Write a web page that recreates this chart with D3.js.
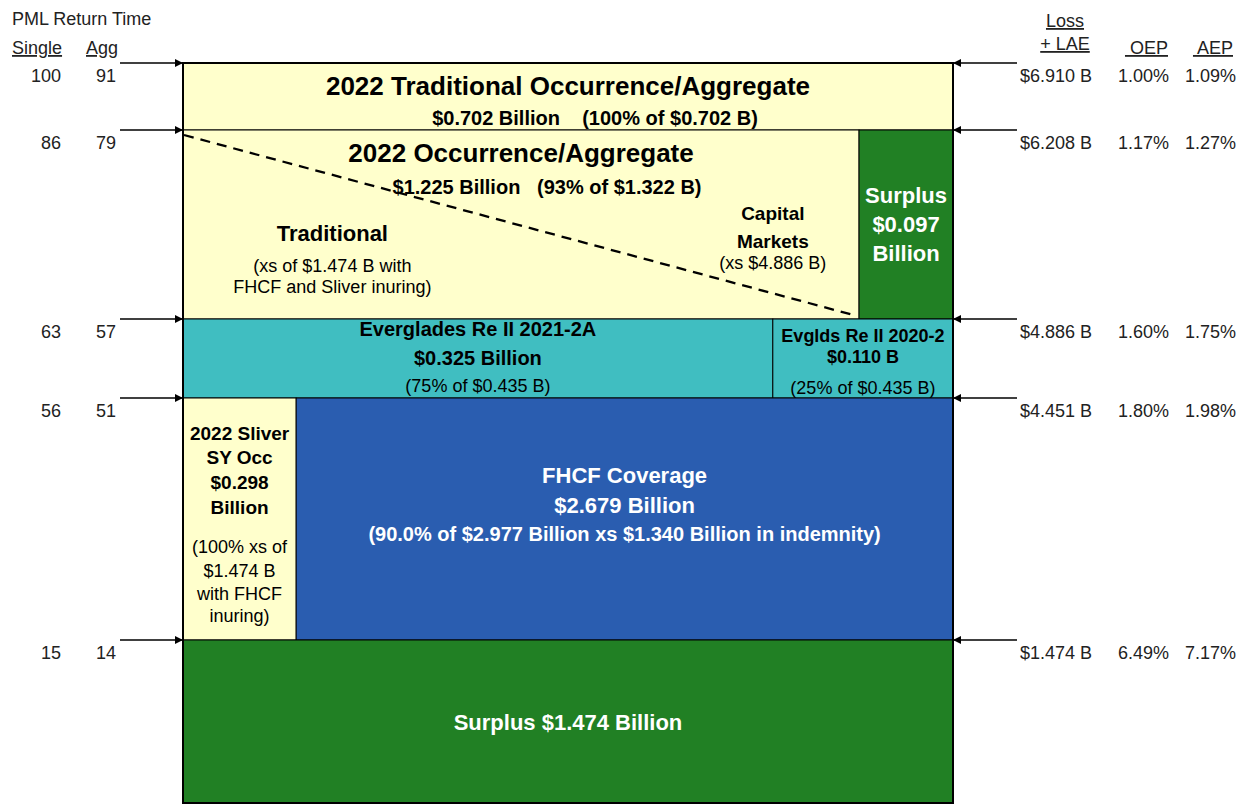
<!DOCTYPE html>
<html>
<head>
<meta charset="utf-8">
<script src="https://cdn.jsdelivr.net/npm/d3@7"></script>
<style>
  body { margin: 0; background: #fff; }
  svg text { font-family: "Liberation Sans", Arial, sans-serif; }
</style>
</head>
<body>
<div id="chart"></div>
<script>
// Loss + LAE attachment points (billions), bottom to top
const levels = [0, 1.474, 4.451, 4.886, 6.208, 6.910];

// side labels, top to bottom (levels 6.910 .. 1.474)
const lossLabels = ["$6.910 B", "$6.208 B", "$4.886 B", "$4.451 B", "$1.474 B"];
const singleRT = [100, 86, 63, 56, 15];
const aggRT = [91, 79, 57, 51, 14];
const oepLabels = ["1.00%", "1.17%", "1.60%", "1.80%", "6.49%"];
const aepLabels = ["1.09%", "1.27%", "1.75%", "1.98%", "7.17%"];

// cells of the tower: layer range, share of width, kind
const cells = [
    {id: "trad", lo: 6.208, hi: 6.910, s0: 0, s1: 1, kind: "yellow"},
    {id: "occ", lo: 4.886, hi: 6.208, s0: 0, s1: 0.878, kind: "yellow"},
    {id: "surplusTop", lo: 4.886, hi: 6.208, s0: 0.878, s1: 1, kind: "green"},
    {id: "evg21", lo: 4.451, hi: 4.886, s0: 0, s1: 0.766, kind: "teal"},
    {id: "evg20", lo: 4.451, hi: 4.886, s0: 0.766, s1: 1, kind: "teal"},
    {id: "sliver", lo: 1.474, hi: 4.451, s0: 0, s1: 0.147, kind: "yellow"},
    {id: "fhcf", lo: 1.474, hi: 4.451, s0: 0.147, s1: 1, kind: "blue"},
    {id: "surplus", lo: 0, hi: 1.474, s0: 0, s1: 1, kind: "green"}
];

const colors = {yellow: "#ffffcc", green: "#218024", teal: "#40bec1", blue: "#2a5db0"};

// text inside the tower: [cell, text, style, line]
const labels = [
    ["trad", "2022 Traditional Occurrence/Aggregate", "t1", 0],
    ["trad", "$0.702 Billion    (100% of $0.702 B)", "b20", 1],
    ["occ", "2022 Occurrence/Aggregate", "t1", 0],
    ["occ", "$1.225 Billion   (93% of $1.322 B)", "b20", 1],
    ["surplusTop", "Surplus", "w22", 0],
    ["surplusTop", "$0.097", "w22", 1],
    ["surplusTop", "Billion", "w22", 2],
    ["evg21", "Everglades Re II 2021-2A", "b20", 0],
    ["evg21", "$0.325 Billion", "b20", 1],
    ["evg21", "(75% of $0.435 B)", "r18", 2],
    ["evg20", "Evglds Re II 2020-2", "b18", 0],
    ["evg20", "$0.110 B", "b18", 1],
    ["evg20", "(25% of $0.435 B)", "r18", 2],
    ["sliver", "2022 Sliver", "b19", 0],
    ["sliver", "SY Occ", "b19", 1],
    ["sliver", "$0.298", "b19", 2],
    ["sliver", "Billion", "b19", 3],
    ["sliver", "(100% xs of", "r18", 4],
    ["sliver", "$1.474 B", "r18", 5],
    ["sliver", "with FHCF", "r18", 6],
    ["sliver", "inuring)", "r18", 7],
    ["fhcf", "FHCF Coverage", "w22", 0],
    ["fhcf", "$2.679 Billion", "w22", 1],
    ["fhcf", "(90.0% of $2.977 Billion xs $1.340 Billion in indemnity)", "w20", 2],
    ["surplus", "Surplus $1.474 Billion", "w22", 0]
];

// sub-labels inside the occurrence layer (split traditional / capital markets)
const occSplit = [
    ["Traditional", "b22", 0.194, 0],
    ["(xs of $1.474 B with", "r18", 0.194, 1],
    ["FHCF and Sliver inuring)", "r18", 0.194, 2],
    ["Capital", "b19", 0.766, 0],
    ["Markets", "b19", 0.766, 1],
    ["(xs $4.886 B)", "r18", 0.766, 2]
];

const textStyles = {
    t1: {size: 26, weight: "bold", fill: "#000"},
    b22: {size: 22, weight: "bold", fill: "#000"},
    b20: {size: 20, weight: "bold", fill: "#000"},
    b19: {size: 19, weight: "bold", fill: "#000"},
    b18: {size: 18, weight: "bold", fill: "#000"},
    r18: {size: 18, weight: "normal", fill: "#000"},
    w22: {size: 22, weight: "bold", fill: "#fff"},
    w20: {size: 20, weight: "bold", fill: "#fff"}
};

// baseline offsets (px from top of cell) of each line, per cell
const lineY = {
    trad: [32, 62],
    occ: [32, 64],
    surplusTop: [73, 102, 131],
    evg21: [17, 46, 73],
    evg20: [23, 44, 75],
    sliver: [42, 66, 91, 116, 155, 179, 202, 224],
    fhcf: [85, 115, 143],
    surplus: [90]
};
// horizontal nudges for lines that sit off-centre
const lineDx = {trad: [0, 27], occ: [0, 26]};
const occLineY = [[111, 142, 163], [90, 118, 139]];

const width = 1240, height = 807;
const box = {left: 183, right: 953, top: 63, bottom: 803};
// layer heights in px, bottom to top (tower is not drawn to scale)
const layerPx = [163, 242, 79, 189, 67];

const svg = d3.select("#chart").append("svg")
    .attr("width", width)
    .attr("height", height);

const yRange = [box.bottom];
layerPx.forEach(h => yRange.push(yRange[yRange.length - 1] - h));

const yScale = d3.scaleLinear().domain(levels).range(yRange);
const xScale = d3.scaleLinear().domain([0, 1]).range([box.left, box.right]);

// cells
svg.selectAll(".cell")
    .data(cells)
    .join("rect")
    .attr("class", "cell")
    .attr("x", d => xScale(d.s0))
    .attr("y", d => yScale(d.hi))
    .attr("width", d => xScale(d.s1) - xScale(d.s0))
    .attr("height", d => yScale(d.lo) - yScale(d.hi))
    .attr("fill", d => colors[d.kind])
    .attr("stroke", "#000")
    .attr("stroke-width", 1);

// dashed split between traditional and capital markets
const occ = cells.find(c => c.id === "occ");
svg.append("line")
    .attr("x1", xScale(occ.s0) + 1)
    .attr("y1", yScale(occ.hi) + 5)
    .attr("x2", xScale(occ.s1) - 2)
    .attr("y2", yScale(occ.lo) - 3)
    .attr("stroke", "#000")
    .attr("stroke-width", 2.3)
    .attr("stroke-dasharray", "10,7");

// outer border
svg.append("rect")
    .attr("x", box.left)
    .attr("y", yScale(levels[levels.length - 1]))
    .attr("width", box.right - box.left)
    .attr("height", yScale(0) - yScale(levels[levels.length - 1]))
    .attr("fill", "none")
    .attr("stroke", "#000")
    .attr("stroke-width", 2);

const cellById = {};
cells.forEach(c => cellById[c.id] = c);

function styled(sel, key) {
    const s = textStyles[key];
    return sel.attr("font-size", s.size + "px")
        .attr("font-weight", s.weight)
        .attr("fill", s.fill);
}

labels.forEach(([id, txt, st, line]) => {
    const c = cellById[id];
    const dx = lineDx[id] ? lineDx[id][line] : 0;
    const t = svg.append("text")
        .attr("x", (xScale(c.s0) + xScale(c.s1)) / 2 + dx)
        .attr("y", yScale(c.hi) + lineY[id][line])
        .attr("text-anchor", "middle")
        .style("white-space", "pre")
        .text(txt);
    styled(t, st);
});

occSplit.forEach(([txt, st, share, line]) => {
    const col = share < 0.5 ? 0 : 1;
    const t = svg.append("text")
        .attr("x", xScale(share))
        .attr("y", yScale(occ.hi) + occLineY[col][line])
        .attr("text-anchor", "middle")
        .text(txt);
    styled(t, st);
});

// arrow markers
const defs = svg.append("defs");
defs.append("marker")
    .attr("id", "arrow")
    .attr("viewBox", "0 0 10 10")
    .attr("refX", 10).attr("refY", 5)
    .attr("markerWidth", 10).attr("markerHeight", 8)
    .attr("markerUnits", "userSpaceOnUse")
    .attr("orient", "auto")
    .append("path")
    .attr("d", "M0,0 L10,5 L0,10 Z")
    .attr("fill", "#000");

const sideLevels = levels.slice(1).reverse();

// left arrows + return times
svg.selectAll(".arrow-left")
    .data(sideLevels)
    .join("line")
    .attr("x1", 120).attr("x2", box.left)
    .attr("y1", d => yScale(d)).attr("y2", d => yScale(d))
    .attr("stroke", "#000").attr("stroke-width", 1.3)
    .attr("marker-end", "url(#arrow)");

svg.selectAll(".arrow-right")
    .data(sideLevels)
    .join("line")
    .attr("x1", 1017).attr("x2", box.right)
    .attr("y1", d => yScale(d)).attr("y2", d => yScale(d))
    .attr("stroke", "#000").attr("stroke-width", 1.3)
    .attr("marker-end", "url(#arrow)");

function sideText(values, x, anchor) {
    svg.append("g")
        .selectAll("text")
        .data(values)
        .join("text")
        .attr("x", x)
        .attr("y", (d, i) => yScale(sideLevels[i]) + 19)
        .attr("text-anchor", anchor)
        .attr("font-size", "18px")
        .attr("fill", "#222")
        .text(d => d);
}
sideText(singleRT, 61, "end");
sideText(aggRT, 116, "end");
sideText(lossLabels, 1092, "end");
sideText(oepLabels, 1169, "end");
sideText(aepLabels, 1236, "end");

// headers
function header(txt, x, y, anchor, ul) {
    const t = svg.append("text")
        .attr("x", x).attr("y", y)
        .attr("text-anchor", anchor)
        .attr("font-size", "18px")
        .attr("fill", "#222")
        .style("white-space", "pre")
        .text(txt);
    if (ul) t.attr("text-decoration", "underline");
}
header("PML Return Time", 12, 25, "start", false);
header("Single", 12, 54, "start", true);
header("Agg", 86, 54, "start", true);
header("Loss", 1065, 27, "middle", true);
header("+ LAE", 1065, 50, "middle", true);
header(" OEP", 1168, 54, "end", true);
header(" AEP", 1233, 54, "end", true);
</script>
</body>
</html>
